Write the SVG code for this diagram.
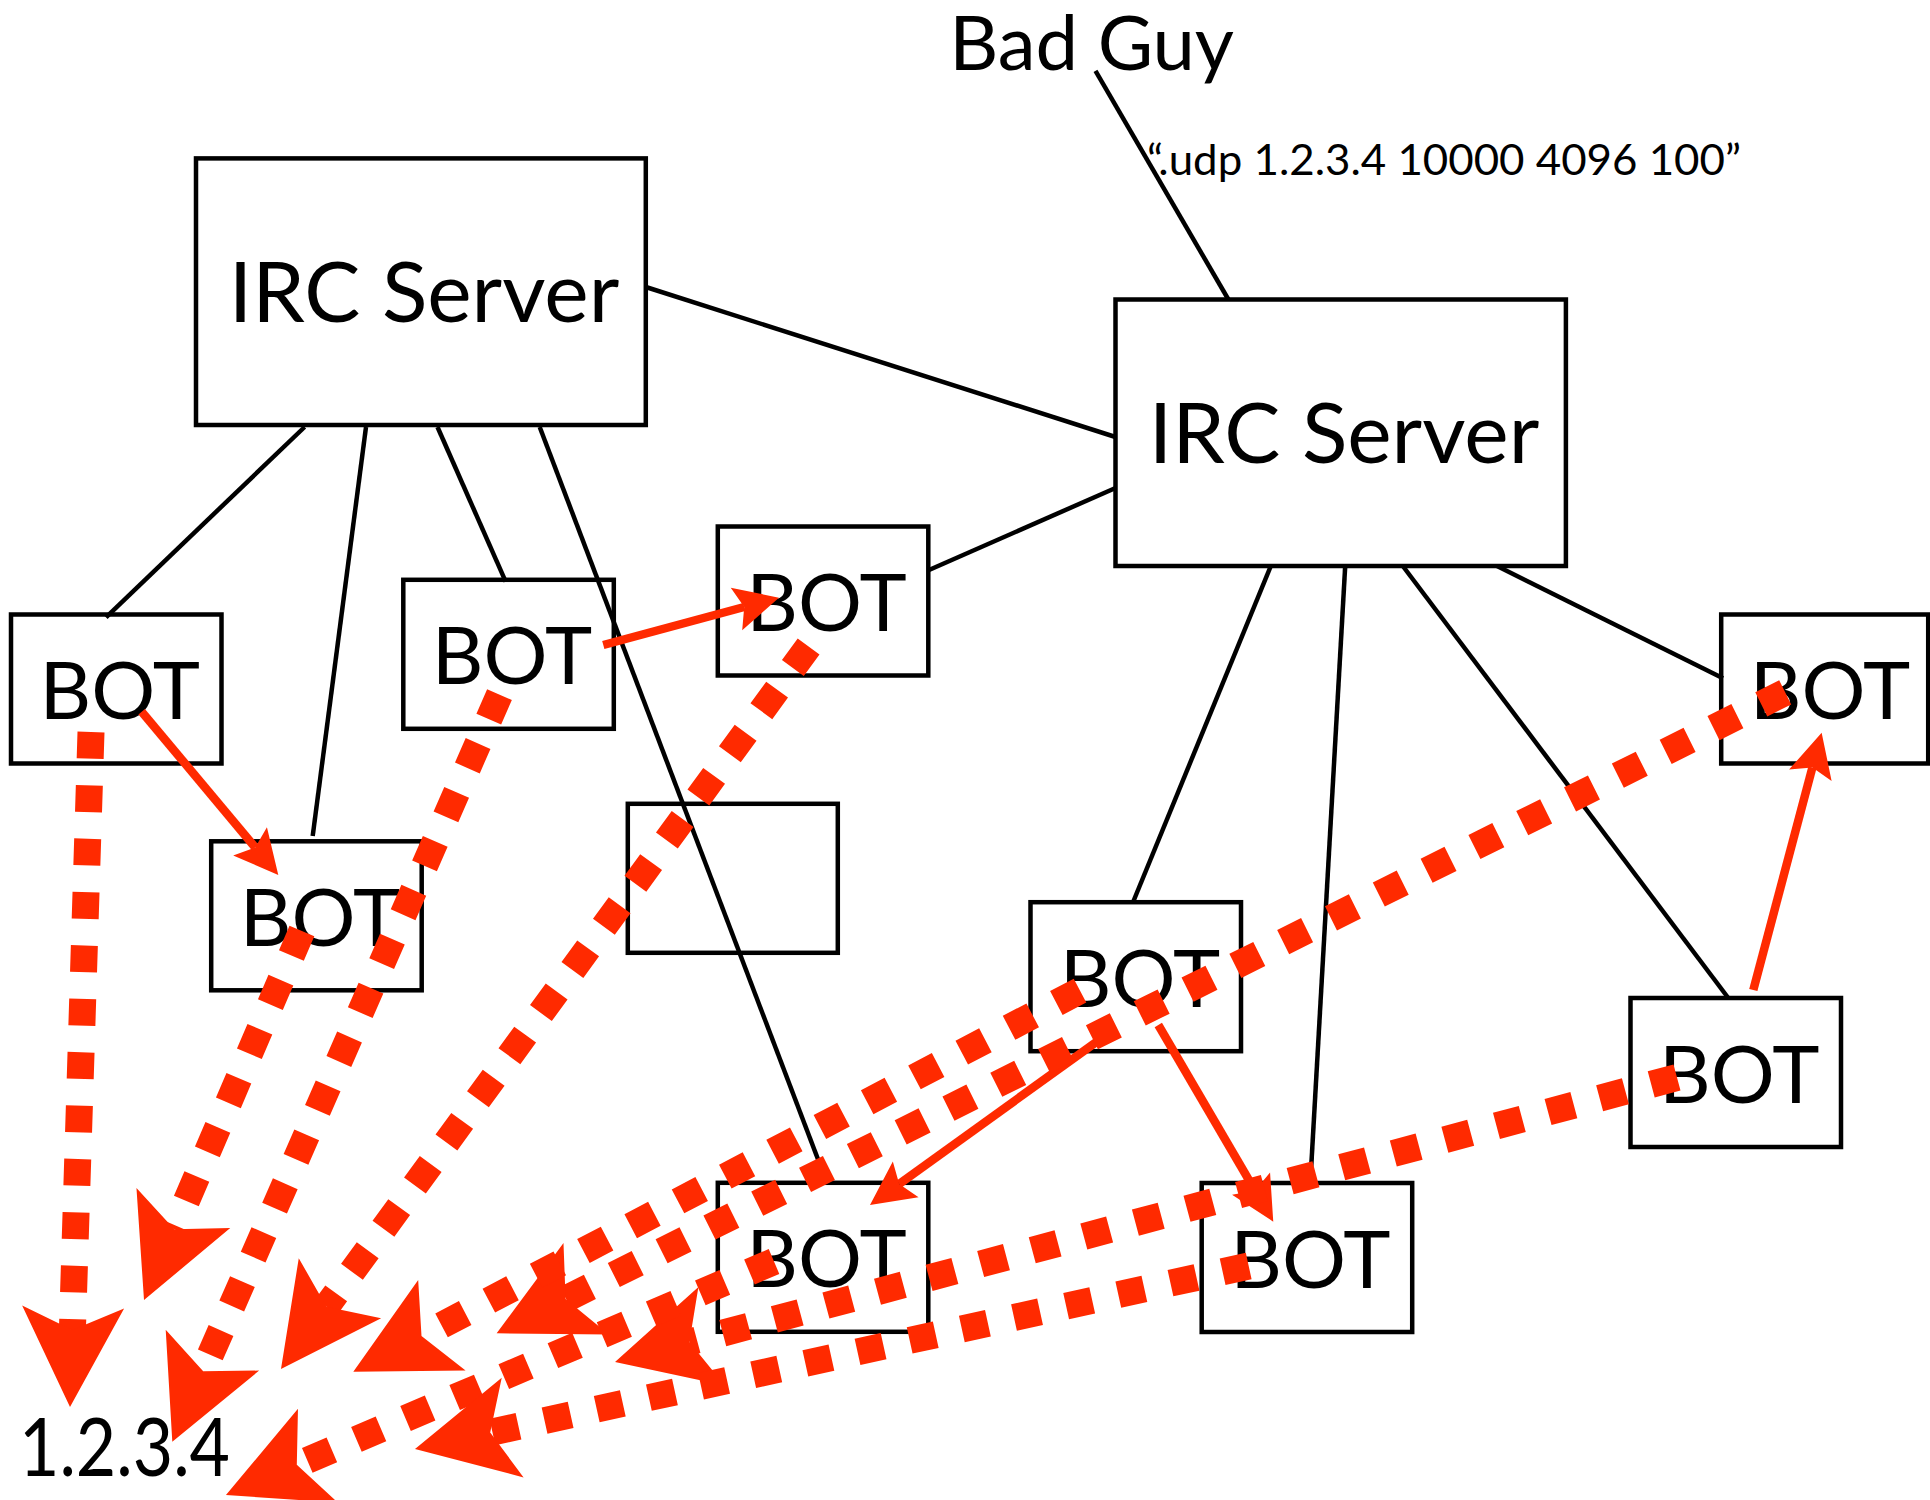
<svg xmlns="http://www.w3.org/2000/svg" width="1930" height="1500" viewBox="0 0 1930 1500">
<style>
.box{fill:none;stroke:#000;stroke-width:4.5}
.lbl{font-family:Lato,"Noto Sans",sans-serif;fill:#000}
.bot{font-size:80px;text-anchor:middle}
.irc{font-size:84px;text-anchor:middle}
.link{stroke:#000;stroke-width:4.5;fill:none}
.send{stroke:#ff2a00;stroke-width:8.5;fill:none;marker-end:url(#smallHead)}
.flood{stroke:#ff2a00;stroke-width:27;stroke-dasharray:26.7 26.7;fill:none;marker-end:url(#bigHead)}
</style>
<defs>
<marker id="bigHead" markerUnits="userSpaceOnUse" orient="auto" refX="0" refY="0" markerWidth="10" markerHeight="10" overflow="visible">
<path d="M77,0 L-23,-51 L0,0 L-23,51 Z" fill="#ff2a00"/>
</marker>
<marker id="smallHead" markerUnits="userSpaceOnUse" orient="auto" refX="0" refY="0" markerWidth="10" markerHeight="10" overflow="visible">
<path d="M36,0 L-8,-22 L0,0 L-8,22 Z" fill="#ff2a00"/>
</marker>
</defs>
<rect width="1930" height="1500" fill="#fff"/>

<g id="badguy"><text class="lbl" x="1091.7" y="70" font-size="76" text-anchor="middle">Bad Guy</text></g>
<g id="command"><text class="lbl" x="1147" y="174.6" font-size="43" textLength="594" lengthAdjust="spacingAndGlyphs">“.udp 1.2.3.4 10000 4096 100”</text></g>
<g id="target"><text class="lbl" x="19" y="1476" font-size="82" textLength="211" lengthAdjust="spacingAndGlyphs">1.2.3.4</text></g>

<g id="irc1"><rect class="box" x="196" y="158.4" width="449.8" height="266.6"/><text class="lbl irc" x="424" y="322">IRC Server</text></g>
<g id="irc2"><rect class="box" x="1115.5" y="299.5" width="450.4" height="266.5"/><text class="lbl irc" x="1344" y="463">IRC Server</text></g>

<g id="botA"><rect class="box" x="11" y="614.5" width="210.5" height="149"/><text class="lbl bot" x="119.8" y="719">BOT</text></g>
<g id="botB"><rect class="box" x="403.3" y="579.8" width="210.5" height="149"/><text class="lbl bot" x="512" y="684.3">BOT</text></g>
<g id="botC"><rect class="box" x="717.8" y="526.5" width="210.5" height="149"/><text class="lbl bot" x="826.5" y="631">BOT</text></g>
<g id="botD"><rect class="box" x="211.2" y="841.3" width="210.5" height="149"/><text class="lbl bot" x="320" y="945.8">BOT</text></g>
<g id="empty"><rect class="box" x="627.8" y="803.8" width="210" height="149"/></g>
<g id="botF"><rect class="box" x="1721.2" y="614.5" width="207" height="149"/><text class="lbl bot" x="1830" y="719">BOT</text></g>
<g id="botG"><rect class="box" x="1030.5" y="902.2" width="210.5" height="149"/><text class="lbl bot" x="1140" y="1006.7">BOT</text></g>
<g id="botH"><rect class="box" x="1630.5" y="998" width="210.5" height="149"/><text class="lbl bot" x="1739.2" y="1102.5">BOT</text></g>
<g id="botI"><rect class="box" x="717.8" y="1182.8" width="210.5" height="149"/><text class="lbl bot" x="826.5" y="1287.3">BOT</text></g>
<g id="botJ"><rect class="box" x="1201.7" y="1183" width="210.5" height="149"/><text class="lbl bot" x="1310.4" y="1287.5">BOT</text></g>

<g id="connectors">
<g id="links">
<line class="link" x1="304.6" y1="427" x2="106" y2="617.3"/>
<line class="link" x1="366" y1="427" x2="312.7" y2="836"/>
<line class="link" x1="437.5" y1="427" x2="505.7" y2="581.7"/>
<line class="link" x1="539.7" y1="427" x2="827" y2="1183"/>
<line class="link" x1="645.8" y1="287" x2="1115.5" y2="437"/>
<line class="link" x1="929" y1="570" x2="1115.5" y2="488"/>
<line class="link" x1="1095.5" y1="70.8" x2="1228.4" y2="299.5"/>
<line class="link" x1="1270.8" y1="566" x2="1132.7" y2="903"/>
<line class="link" x1="1345.2" y1="566" x2="1310.3" y2="1183"/>
<line class="link" x1="1402.8" y1="566" x2="1728.3" y2="998"/>
<line class="link" x1="1497" y1="566" x2="1723" y2="678.3"/>
</g>
<g id="sends">
<line class="send" x1="141.7" y1="711.7" x2="255.2" y2="847.4"/>
<line class="send" x1="603.3" y1="645" x2="744.2" y2="607"/>
<line class="send" x1="1096.7" y1="1041.7" x2="899.2" y2="1184"/>
<line class="send" x1="1158.3" y1="1025" x2="1255.1" y2="1190.6"/>
<line class="send" x1="1753.3" y1="990" x2="1812.4" y2="767.5"/>
</g>
<g id="floods">
<line class="flood" x1="91" y1="732" x2="72.4" y2="1330"/>
<line class="flood" x1="499.5" y1="694.6" x2="203.2" y2="1371.2"/>
<line class="flood" x1="808.6" y1="646.5" x2="326.4" y2="1306.8"/>
<line class="flood" x1="301.9" y1="931" x2="174.3" y2="1229.2"/>
<line class="flood" x1="1785.2" y1="692.4" x2="565.6" y2="1299"/>
<line class="flood" x1="1080" y1="990.6" x2="421.5" y2="1335.9"/>
<line class="flood" x1="1677" y1="1077.5" x2="689.4" y2="1342.1"/>
<line class="flood" x1="774" y1="1261.5" x2="296.8" y2="1464.8"/>
<line class="flood" x1="1248.7" y1="1266" x2="490.2" y2="1432.5"/>
</g>
</g>
</svg>
